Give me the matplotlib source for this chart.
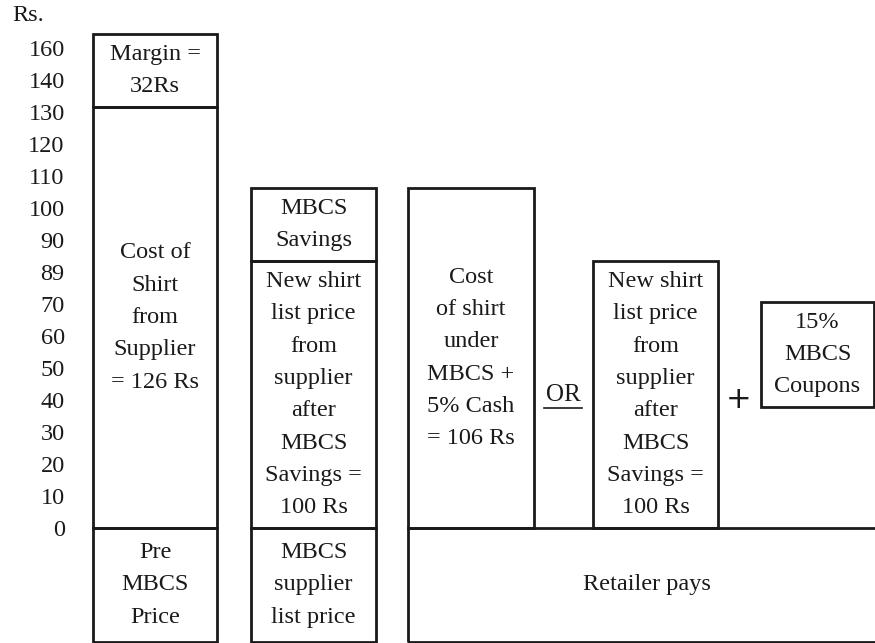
import matplotlib
matplotlib.use("Agg")
import matplotlib.pyplot as plt

plt.rcParams['font.family'] = ['Liberation Serif', 'DejaVu Serif']

# ---- data ----
tick_positions = [0, 10, 20, 30, 40, 50, 60, 70, 80, 90, 100, 110, 120, 130, 140, 150]
tick_labels = ["0", "10", "20", "30", "40", "50", "60", "70", "89", "90",
               "100", "110", "120", "130", "140", "160"]

# boxes: (column, bottom, top, label)
box_columns = ["pre", "pre", "pre", "list", "list", "list", "cash", "new", "coupon"]
box_bottoms = [131.6, 0, -35.6, 83.4, 0, -35.6, 0, 0, 37.8]
box_tops = [154.4, 131.6, 0, 106.2, 83.4, 0, 106.2, 83.4, 70.6]
box_labels = [
    "Margin =\n32Rs",
    "Cost of\nShirt\nfrom\nSupplier\n= 126 Rs",
    "Pre\nMBCS\nPrice",
    "MBCS\nSavings",
    "New shirt\nlist price\nfrom\nsupplier\nafter\nMBCS\nSavings =\n100 Rs",
    "MBCS\nsupplier\nlist price",
    "Cost\nof shirt\nunder\nMBCS +\n5% Cash\n= 106 Rs",
    "New shirt\nlist price\nfrom\nsupplier\nafter\nMBCS\nSavings =\n100 Rs",
    "15%\nMBCS\nCoupons",
]
retailer_label = "Retailer pays"
retailer_bottom, retailer_top = -35.6, 0

# ---- layout (pixel-based x coordinates) ----
col_left = {"pre": 93, "list": 251, "cash": 408, "new": 593, "coupon": 761}
col_right = {"pre": 217, "list": 376, "cash": 534, "new": 718, "coupon": 874}
retailer_left, retailer_right = 408, 886

W, H = 875, 643
fig = plt.figure(figsize=(W / 100, H / 100), dpi=100)
ax_left = 80
ax = fig.add_axes([ax_left / W, 0, (W - ax_left) / W, 1])
ax.set_xlim(ax_left, W)
ax.set_ylim((528 - 643) / 3.2, 528 / 3.2)
for s in ax.spines.values():
    s.set_visible(False)
ax.set_xticks([])
ax.set_yticks(tick_positions)
ax.set_yticklabels(tick_labels)
ax.tick_params(axis='y', length=0, pad=11, labelsize=17.5, labelcolor='#1a1a1a')

FS = 17.5
LS = 1.71
LW = 2.0
INK = '#1a1a1a'

for col, b, t, lab in zip(box_columns, box_bottoms, box_tops, box_labels):
    l, r = col_left[col], col_right[col]
    ax.bar((l + r) / 2, t - b, width=r - l, bottom=b, fill=False,
           edgecolor=INK, linewidth=LW, clip_on=False)
    ax.text((l + r) / 2, (b + t) / 2, lab, ha='center', va='center',
            fontsize=FS, linespacing=LS, color=INK)

ax.bar((retailer_left + retailer_right) / 2, retailer_top - retailer_bottom,
       width=retailer_right - retailer_left, bottom=retailer_bottom, fill=False,
       edgecolor=INK, linewidth=LW, clip_on=False)
ax.text(647, (retailer_top + retailer_bottom) / 2, retailer_label, ha='center',
        va='center', fontsize=FS, color=INK)

# connectors
ax.text(563, 41.6, "OR", ha='center', va='center', fontsize=FS + 0.5, color=INK)
ax.plot([544, 582], [37.4, 37.4], color=INK, linewidth=1.2)
ax.text(739, 40.0, "+", ha='center', va='center', fontsize=22, color=INK,
        family='DejaVu Sans')

# axis unit
ax.text(12, 160.3, "Rs.", ha='left', va='center', fontsize=FS, color=INK,
        clip_on=False)

fig.savefig("out.png", dpi=100)
